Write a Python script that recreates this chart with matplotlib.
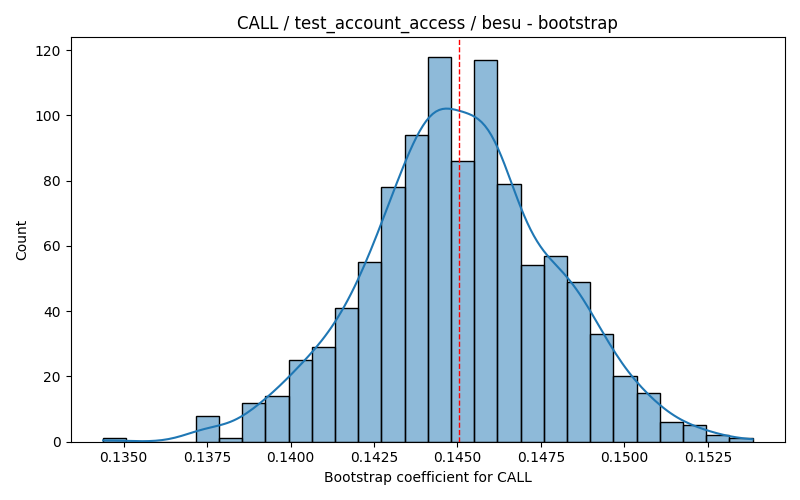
import numpy as np
import matplotlib
matplotlib.use("Agg")
import matplotlib.pyplot as plt
import seaborn as sns

# bootstrap histogram (1000 resamples, 28 bins)
coef_min = 0.134384
coef_max = 0.153840
counts = [1, 0, 0, 0, 8, 1, 12, 14, 25, 29, 41, 55, 78, 94,
          118, 86, 117, 79, 54, 57, 49, 33, 20, 15, 6, 5, 2, 1]
estimate = 0.14504

edges = np.linspace(coef_min, coef_max, len(counts) + 1)
centers = (edges[:-1] + edges[1:]) / 2
samples = np.repeat(centers, counts)
# the lone points in the outer bins sit on the data extremes
samples[0] = coef_min
samples[-1] = coef_max

fig, ax = plt.subplots(figsize=(8, 5), dpi=100)
sns.histplot(samples, bins=edges, kde=True, ax=ax)
ax.axvline(estimate, color="red", linestyle="--", linewidth=1)
ax.set_title("CALL / test_account_access / besu - bootstrap")
ax.set_xlabel("Bootstrap coefficient for CALL")
ax.set_ylabel("Count")
plt.tight_layout()
plt.savefig("out.png")
